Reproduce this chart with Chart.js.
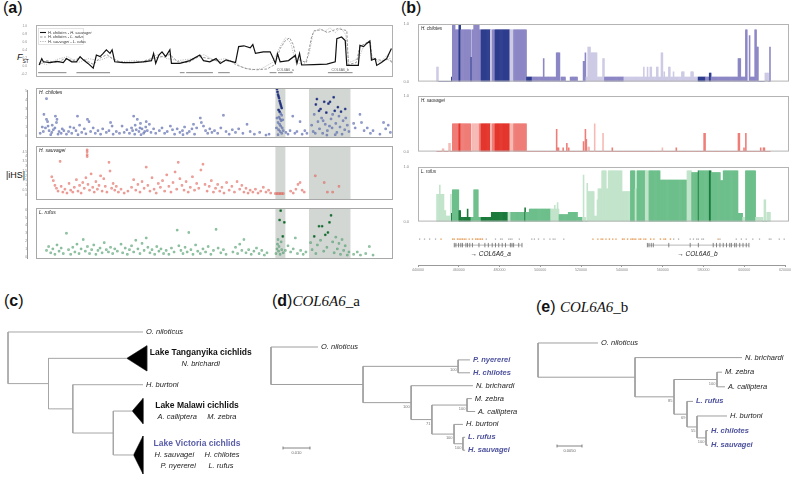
<!DOCTYPE html>
<html lang="en">
<head>
<meta charset="UTF-8">
<title>Selection around COL6A6 in Lake Victoria cichlids</title>
<script src="https://cdn.jsdelivr.net/npm/chart.js"></script>
<style>
  body { margin: 0; background: #fff; font-family: "Liberation Sans", Arial, sans-serif; }
  #page { position: relative; width: 800px; height: 478px; overflow: hidden; background: #fff; }
  #page canvas { position: absolute; }
  .lbl { position: absolute; white-space: nowrap; color: #111; line-height: 1; }
  .panel { font-size: 16px; }
  .gene { font-family: "Liberation Serif", "Times New Roman", serif; font-style: italic; font-size: 15px; }
  .bracket { position: absolute; border-left: 1px solid #9a9a9a; width: 0; }
</style>
</head>
<body>
<div id="page">
  <div class="lbl panel" style="left:3px;top:0px">(<b>a</b>)</div>
  <div class="lbl panel" style="left:401px;top:0px">(<b>b</b>)</div>
  <div class="lbl panel" style="left:4px;top:293px">(<b>c</b>)</div>
  <div class="lbl panel" style="left:272px;top:293px">(<b>d</b>)<span class="gene">COL6A6</span><span class="gene" style="font-style:normal">_a</span></div>
  <div class="lbl panel" style="left:536px;top:299px">(<b>e</b>) <span class="gene">COL6A6</span><span class="gene" style="font-style:normal">_b</span></div>
  <div class="lbl" style="left:17px;top:53px;font-size:9px"><i>F</i><sub style="font-size:5px">ST</sub></div>
  <div class="lbl" style="left:6px;top:171px;font-size:9px">|iHS|</div>
  <div class="bracket" style="left:27px;top:90px;height:169px"></div>

  <canvas id="fst" width="380" height="63" style="left:16px;top:20px"></canvas>
  <canvas id="ihsChil" width="380" height="60" style="left:16px;top:84px"></canvas>
  <canvas id="ihsSauv" width="380" height="64" style="left:16px;top:142px"></canvas>
  <canvas id="ihsRuf" width="380" height="61" style="left:16px;top:204px"></canvas>

  <canvas id="hapChil" width="394" height="65" style="left:398px;top:20px"></canvas>
  <canvas id="hapSauv" width="394" height="63" style="left:398px;top:92px"></canvas>
  <canvas id="hapRuf" width="394" height="62" style="left:398px;top:163px"></canvas>
  <canvas id="genes" width="394" height="44" style="left:398px;top:228px"></canvas>

  <canvas id="treeC" width="265" height="156" style="left:0px;top:322px"></canvas>
  <canvas id="treeD" width="265" height="145" style="left:265px;top:330px"></canvas>
  <canvas id="treeE" width="270" height="145" style="left:530px;top:330px"></canvas>
</div>
<script>
// ---------- (a) Fst along the scaffold, position in kb ----------
const fstNames = ['H. chilotes - H. sauvagei', 'H. chilotes - L. rufus', 'H. sauvagei - L. rufus'];
const fstChilSauv = [[0.6,0.04],[1.1,0.2],[1.4,0.12],[2.7,0.1],[4.0,0.13],[5.2,0.1],[5.8,0.2],[6.8,0.12],[7.7,0.12],[8.4,0.25],
  [9.0,0.17],[9.9,0.08],[10.9,-0.04],[11.5,0.29],[12.2,0.25],[12.8,0.33],[13.4,0.42],[14.1,0.33],[14.5,0.42],[15.0,0.12],
  [16.6,0.1],[18.5,0.1],[20.4,0.12],[22.0,0.15],[22.4,0.33],[22.8,0.08],[23.4,0.29],[24.0,0.37],[24.7,0.25],[25.5,0.42],
  [25.8,0.08],[27.4,0.08],[29.3,0.15],[31.2,0.29],[31.9,0.15],[33.1,0.12],[34.3,0.2],[35.1,0.08],[36.2,0.17],[37.5,0.12],
  [38.0,0.1],[38.6,0.5],[39.6,0.52],[40.8,0.47],[41.3,0.55],[41.8,0.33],[43.3,0.37],[44.6,0.37],[45.2,0.2],[45.6,0.08],
  [46.0,0.32],[46.5,0.12],[48.1,0.15],[49.4,0.28],[49.7,0.08],[50.2,0.33],[50.6,0.04],[52.9,0.05],[55.4,0.06],[57.0,0.12],
  [57.3,0.7],[58.2,0.74],[58.9,0.65],[59.2,0.03],[61.4,0.03],[61.7,0.53],[62.4,0.5],[63.0,0.58],[63.6,0.64],[63.9,0.16],
  [64.6,0.2],[64.9,0.03],[65.8,0.1],[66.8,0.2],[67.7,0.45]];
const fstChilRuf = [[0.6,0.05],[2.0,0.15],[4.0,0.1],[5.5,0.2],[7.0,0.15],[8.5,0.22],[10.0,0.12],[11.0,0.05],[12.0,0.2],[13.5,0.3],
  [15.0,0.15],[17.0,0.1],[20.0,0.12],[22.0,0.2],[24.0,0.25],[25.5,0.3],[27.0,0.12],[29.0,0.1],[31.0,0.25],[33.0,0.2],
  [35.0,0.12],[37.0,0.15],[38.0,0.05],[40.0,-0.05],[42.0,-0.08],[44.0,-0.06],[45.5,0.05],[46.5,0.45],[47.5,0.65],[48.3,0.72],
  [49.0,0.55],[49.6,0.2],[50.5,0.15],[51.5,0.1],[52.5,0.75],[53.0,0.9],[54.5,0.92],[55.5,0.85],[56.5,0.9],[57.5,0.95],
  [58.5,0.92],[59.2,0.9],[59.5,0.05],[61.0,0.1],[61.7,0.5],[63.0,0.6],[63.7,0.6],[64.0,0.2],[66.0,0.15],[67.0,0.18],[68.0,0.1]];
const fstSauvRuf = [[0.6,0.1],[2.0,0.05],[4.0,0.18],[6.0,0.25],[8.0,0.1],[10.0,0.2],[12.0,0.15],[14.0,0.25],[16.0,0.12],[19.0,0.15],
  [21.0,0.1],[23.0,0.3],[25.0,0.2],[27.0,0.15],[30.0,0.2],[32.0,0.3],[34.0,0.15],[36.0,0.2],[38.0,0.1],[39.0,0.0],
  [41.0,-0.08],[43.0,-0.05],[45.0,0.1],[46.5,0.5],[47.5,0.72],[48.5,0.6],[49.5,0.1],[51.0,0.05],[52.0,0.3],[52.8,0.85],
  [54.0,0.95],[55.0,0.88],[56.0,0.97],[57.0,0.85],[58.0,0.97],[59.0,0.8],[59.6,0.1],[61.5,0.2],[62.5,0.55],[63.5,0.65],
  [64.0,0.25],[65.5,0.1],[67.0,0.3],[68.0,0.05]];
const fstGenes = [[0.4,5.8,''],[7.7,14.1,''],[27.4,28.3,''],[28.6,33.7,''],[34.7,36.9,''],[44.5,45.8,''],[46.1,48.9,'COL6A6_a'],[55.6,60.3,'COL6A6_b']];
const fstYTicks = [-0.2, 0, 0.2, 0.4, 0.6, 0.8, 1.0];
const kbTicks = [0, 10, 20, 30, 40, 50, 60];

// ---------- (a) |iHS| per SNP: [kb, |iHS|] ----------
const sweepKb = [[45.6, 47.5], [52.0, 59.9]];
const ihsChilotes = [[0.8,0.3],[1.2,1.0],[1.4,0.5],[1.5,2.4],[1.8,0.9],[2.0,4.15],[2.0,1.85],[2.2,1.6],[2.3,1.1],[2.5,0.6],
  [2.8,0.15],[3.0,0.4],[3.1,1.2],[3.3,0.7],[3.6,0.9],[3.7,2.2],[3.9,1.5],[4.0,1.85],[4.2,0.2],[4.4,0.5],[4.8,0.3],[5.0,0.8],
  [5.3,0.6],[5.8,0.2],[6.2,0.5],[6.5,1.0],[6.8,0.3],[7.2,0.9],[7.6,0.6],[7.9,2.2],[8.0,0.15],[8.3,1.2],[8.7,0.4],[9.2,0.8],
  [9.5,0.25],[9.8,1.85],[10.1,1.6],[10.4,0.5],[10.9,0.9],[11.3,0.3],[11.8,0.6],[12.3,0.2],[12.7,0.8],[13.4,0.4],[13.9,0.6],
  [14.2,1.5],[14.5,1.1],[14.7,0.2],[15.3,0.5],[15.9,0.3],[16.4,1.1],[16.8,0.4],[17.3,0.7],[17.8,0.3],[18.2,0.9],[18.4,0.6],
  [18.6,2.2],[18.8,0.2],[18.9,1.2],[19.1,0.7],[19.3,1.85],[19.6,0.5],[19.8,0.9],[19.9,1.4],[20.0,0.15],[20.2,0.8],[20.5,0.3],
  [20.7,0.5],[20.9,1.0],[21.0,1.6],[21.2,0.6],[21.6,1.3],[21.9,0.4],[22.4,0.8],[22.8,0.3],[23.5,0.6],[24.0,0.9],[24.5,0.3],
  [25.0,0.5],[25.6,1.1],[26.0,0.7],[26.4,0.2],[26.9,0.8],[27.4,0.4],[27.9,0.6],[28.0,0.15],[28.3,1.0],[28.8,0.3],[29.2,0.5],
  [29.7,0.8],[30.0,1.3],[30.2,0.2],[30.6,0.9],[31.3,2.0],[31.5,1.5],[31.9,1.1],[32.3,0.6],[32.7,0.3],[33.1,0.8],[33.5,0.4],
  [34.0,0.6],[34.6,0.3],[35.2,0.9],[35.7,2.3],[36.2,0.5],[36.8,0.2],[37.4,0.7],[38.0,0.4],[38.6,0.8],[39.4,0.3],[40.2,1.3],
  [40.8,0.5],[41.6,0.2],[42.6,0.4],[43.8,0.1],[44.4,0.2],[45.8,0.9],[45.9,5.2],[45.9,2.0],[46.0,4.9],[46.1,4.6],[46.1,1.5],
  [46.1,0.15],[46.2,4.4],[46.2,2.9],[46.2,0.7],[46.3,4.2],[46.3,2.1],[46.4,3.9],[46.4,2.7],[46.4,1.3],[46.5,3.7],[46.5,1.9],
  [46.5,0.5],[46.6,3.5],[46.6,2.5],[46.6,1.1],[46.7,3.3],[46.7,1.7],[46.8,3.1],[46.8,2.3],[46.8,0.3],[46.9,0.9],[47.0,1.8],
  [47.1,0.6],[47.6,0.4],[48.0,0.2],[48.4,0.6],[48.9,2.2],[49.3,0.3],[49.7,0.5],[50.3,1.6],[50.7,0.2],[51.2,0.6],[51.6,0.3],
  [52.5,1.2],[52.8,0.5],[53.0,2.4],[53.2,0.3],[53.3,3.5],[53.5,4.1],[53.7,1.6],[53.9,2.8],[54.0,0.8],[54.2,3.0],[54.4,2.0],
  [54.6,0.3],[54.7,1.7],[54.9,3.8],[55.1,1.3],[55.3,2.6],[55.4,0.1],[55.5,0.6],[55.7,3.6],[55.9,1.1],[56.0,3.8],[56.2,1.9],
  [56.4,0.9],[56.5,2.4],[56.7,4.3],[56.9,2.8],[57.0,0.15],[57.1,1.4],[57.3,0.4],[57.5,3.2],[57.7,2.2],[57.9,1.0],[58.1,2.7],
  [58.3,0.2],[58.5,1.7],[58.8,0.7],[58.9,3.0],[59.0,2.0],[59.3,1.2],[59.6,0.5],[60.5,1.4],[60.8,0.9],[61.7,2.4],[62.0,1.5],
  [62.5,0.6],[63.1,0.9],[63.7,0.3],[64.2,0.6],[65.5,0.2],[66.2,1.5],[66.6,0.8],[67.1,1.2],[67.5,0.4]];
const ihsSauvagei = [[3.0,1.9],[3.3,1.5],[3.6,1.0],[3.9,0.7],[4.2,0.4],[4.6,3.5],[4.8,0.9],[5.1,0.3],[5.5,0.6],[5.9,0.2],
  [6.3,1.2],[6.6,0.5],[7.0,0.3],[7.3,0.8],[7.7,1.6],[8.0,0.4],[8.3,1.0],[8.6,0.2],[8.9,1.3],[9.2,0.7],[9.5,1.8],[9.75,4.7],
  [9.75,4.5],[9.75,4.2],[9.75,4.0],[9.9,1.1],[10.2,0.5],[10.5,2.2],[10.8,0.8],[11.1,0.3],[11.4,1.4],[11.7,0.6],[12.0,1.0],
  [12.3,2.0],[12.6,0.4],[12.9,1.7],[13.2,0.9],[13.5,0.3],[13.9,3.4],[14.1,2.5],[14.4,0.7],[14.7,1.2],[15.0,0.5],[15.3,0.9],
  [15.7,0.3],[16.2,0.6],[16.8,0.2],[17.5,0.4],[18.2,0.8],[18.6,1.6],[19.0,0.5],[19.4,1.1],[19.8,0.3],[20.2,1.4],[20.6,0.7],
  [21.0,2.9],[21.3,1.0],[21.7,0.4],[22.1,1.8],[22.5,0.6],[22.9,0.2],[23.3,1.2],[23.7,0.8],[24.1,1.5],[24.5,0.4],[24.9,2.1],
  [25.3,0.9],[25.7,0.3],[26.1,1.3],[26.5,2.4],[26.8,0.6],[27.1,3.4],[27.4,1.7],[27.8,1.0],[28.2,0.5],[28.6,1.4],[29.0,0.3],
  [29.4,0.8],[29.8,1.9],[30.2,0.5],[30.6,1.2],[31.0,0.7],[31.4,2.6],[31.8,3.2],[32.2,1.1],[32.6,0.4],[33.0,0.9],[33.4,1.5],
  [33.8,0.3],[34.2,0.7],[34.6,1.1],[35.0,0.4],[35.4,0.8],[35.8,0.2],[36.3,1.3],[36.8,0.5],[37.3,0.9],[37.8,0.3],[38.3,1.4],
  [38.8,0.6],[39.2,1.0],[39.6,0.3],[40.0,0.7],[40.4,0.2],[40.8,0.5],[41.3,0.3],[41.8,0.6],[42.3,0.2],[42.8,0.4],[43.3,0.8],
  [43.8,0.3],[44.3,0.5],[44.7,0.2],[45.6,0.15],[45.9,0.15],[46.2,0.15],[46.5,0.15],[46.8,0.15],[47.1,0.15],[48.5,0.4],
  [49.0,0.2],[49.5,0.6],[49.9,1.1],[50.3,1.3],[50.7,0.5],[51.1,0.3],[53.2,2.0],[54.9,1.3],[55.5,0.3],[56.5,0.3],[57.7,0.9]];
const ihsRufus = [[2.0,0.8],[2.4,1.3],[2.8,0.5],[3.2,1.0],[3.6,0.3],[4.0,1.5],[4.4,0.7],[4.8,1.1],[5.2,0.4],[5.8,3.0],
  [6.2,0.9],[6.6,0.3],[7.0,1.2],[7.4,0.6],[7.8,1.6],[8.2,0.4],[8.6,1.0],[9.0,2.2],[9.4,0.7],[9.8,1.3],[10.2,0.4],[10.6,0.9],
  [11.0,1.5],[11.4,0.3],[11.8,0.8],[12.2,1.1],[12.6,0.5],[13.0,1.8],[13.4,0.9],[13.8,0.6],[14.2,1.2],[14.6,0.4],[15.0,1.0],
  [15.5,0.7],[16.2,1.6],[16.5,0.5],[17.0,1.1],[17.4,0.3],[17.8,0.9],[18.2,1.4],[18.6,0.6],[19.0,2.1],[19.4,1.0],[19.8,0.4],
  [20.2,1.7],[20.6,0.8],[21.0,2.4],[21.3,1.2],[21.7,0.5],[22.1,0.9],[22.6,0.3],[23.0,1.3],[23.4,0.7],[23.8,1.0],[24.3,0.4],
  [24.8,0.8],[25.3,0.3],[25.8,1.1],[26.3,0.6],[26.9,3.4],[27.2,1.4],[27.6,0.8],[28.0,0.4],[28.4,1.2],[28.8,0.6],[29.1,3.1],
  [29.5,0.9],[29.9,0.3],[30.4,1.5],[30.8,0.7],[31.3,0.4],[31.8,1.0],[32.3,0.6],[32.8,1.3],[33.3,0.3],[33.8,0.8],[34.3,3.5],
  [34.7,1.1],[35.2,0.5],[35.7,0.9],[36.2,0.3],[37.5,0.6],[38.0,1.2],[38.4,0.4],[38.8,1.6],[39.2,0.8],[39.6,2.2],[40.0,0.5],
  [40.5,0.9],[41.0,0.3],[41.5,0.7],[42.0,1.1],[42.5,0.4],[43.0,0.8],[43.5,0.2],[44.0,0.5],[45.7,0.4],[45.9,1.0],[46.0,1.6],
  [46.1,2.2],[46.2,0.7],[46.3,1.3],[46.4,4.7],[46.5,0.3],[46.6,5.9],[46.7,1.9],[46.8,0.9],[47.0,2.6],[47.1,0.5],[47.3,4.4],
  [47.5,0.8],[48.0,1.4],[48.5,0.6],[49.0,1.0],[49.4,2.4],[49.8,0.4],[50.4,0.8],[50.9,0.3],[51.4,0.6],[52.3,1.8],[52.6,0.9],
  [53.0,2.6],[53.3,0.4],[53.6,1.5],[53.9,3.9],[54.2,2.1],[54.5,3.9],[54.8,0.7],[55.1,2.8],[55.4,1.2],[55.6,3.1],[55.9,4.4],
  [56.2,5.3],[56.5,1.9],[56.8,0.5],[57.1,2.5],[57.4,1.0],[57.7,1.7],[58.0,0.3],[58.3,2.2],[58.6,0.8],[58.9,1.4],[59.3,0.2],
  [59.6,0.6],[60.5,0.3],[61.2,0.6],[61.8,0.2],[62.8,0.4],[63.5,1.3],[64.2,0.2]];

// ---------- (b) haplotype frequency runs: [start kb, end kb, frequency, shade 0 dark / 1 mid / 2 light] ----------
const hapChilotes = [[440.0,441.1,0.25,2],[448.1,448.6,0.08,0],[448.6,450.2,1.0,1],[450.2,452.1,0.9,1],[452.1,452.9,1.0,0],
  [452.9,458.3,0.9,1],[458.3,458.9,0.42,0],[458.9,460.2,0.9,1],[460.2,463.1,1.0,1],[463.1,463.8,0.9,1],[463.8,469.1,0.9,0],
  [469.1,469.9,0.9,2],[469.9,471.6,0.9,1],[471.6,479.3,0.9,0],[479.3,481.6,0.9,2],[481.6,488.5,0.9,1],[488.5,491.3,0.08,0],
  [491.3,504.7,0.08,1],[497.4,498.0,0.4,1],[504.7,506.3,0.5,1],[507.2,509.6,0.08,1],[512.0,516.0,0.08,1],[519.0,519.8,0.35,1],
  [519.8,520.6,0.5,1],[520.6,521.7,0.08,2],[521.7,522.8,0.6,2],[522.8,526.6,0.5,2],[526.6,529.5,0.08,2],[529.5,530.5,0.4,2],
  [530.6,540.8,0.08,1],[540.8,580.8,0.08,2],[551.5,552.2,0.25,2],[553.5,554.2,0.25,2],[555.0,556.0,0.25,2],[558.5,559.3,0.25,2],
  [561.0,561.8,0.5,2],[562.5,563.2,0.17,2],[565.0,565.8,0.25,2],[567.5,568.2,0.17,2],[572.0,573.5,0.17,2],[577.0,578.5,0.17,2],
  [580.8,584.8,0.08,0],[584.8,602.6,0.08,1],[587.2,588.0,0.15,0],[602.6,603.9,0.4,1],[603.9,606.7,0.08,1],[606.7,607.5,0.9,1],
  [608.3,608.8,0.8,1],[608.8,613.3,0.08,1],[611.5,612.3,0.9,1],[612.7,613.3,0.6,1],[616.9,619.1,0.15,2],[619.5,620.0,0.6,1]];
const hapSauvagei = [[443.2,444.0,0.05,2],[446.5,447.3,0.15,2],[448.6,452.1,0.5,1],[452.1,452.9,0.5,0],[452.9,458.6,0.5,1],
  [458.9,463.1,0.5,2],[463.1,463.8,0.5,1],[463.8,469.1,0.5,0],[469.1,469.9,0.5,2],[469.9,471.6,0.5,1],[471.6,479.3,0.5,0],
  [479.3,481.6,0.5,2],[481.6,488.5,0.5,1],[504.5,505.0,0.4,1],[505.0,506.0,0.07,1],[508.2,508.7,0.07,1],[509.8,510.6,0.15,1],
  [510.8,511.3,0.07,1],[518.8,519.5,0.18,1],[519.8,520.4,0.4,1],[520.6,521.2,0.22,1],[521.5,522.5,0.08,2],[524.8,525.6,0.5,2],
  [529.3,530.0,0.33,2],[534.3,534.9,0.07,1],[561.3,562.0,0.07,2],[569.0,569.7,0.07,1],[584.2,584.8,0.33,1],[602.5,603.7,0.33,1],
  [605.6,606.2,0.07,1],[606.5,607.0,0.33,1],[614.5,615.0,0.07,1],[616.2,616.8,0.07,1]];
const hapRufus = [[440.0,442.4,0.5,2],[441.5,442.0,0.67,2],[442.4,444.0,0.5,2],[444.0,444.9,0.2,2],[444.9,447.3,0.1,2],
  [447.3,448.1,0.5,2],[448.1,448.6,0.15,0],[448.6,452.1,0.58,1],[452.1,452.9,0.2,0],[452.9,458.6,0.08,0],[456.5,457.0,0.23,0],
  [458.6,460.2,0.08,1],[460.2,462.3,0.58,1],[462.3,463.8,0.08,1],[463.8,469.7,0.08,0],[469.7,478.6,0.17,0],[478.6,480.2,0.17,2],
  [480.2,487.4,0.17,1],[487.4,488.2,0.25,0],[488.2,489.8,0.17,1],[489.8,501.3,0.23,1],[501.3,506.2,0.23,2],[503.5,504.2,0.3,2],
  [505.0,505.6,0.35,2],[506.2,511.0,0.13,1],[511.0,515.8,0.17,1],[515.8,518.3,0.08,1],[519.0,519.7,0.85,2],[519.7,520.5,0.08,2],
  [521.0,521.6,0.7,2],[521.6,524.8,0.55,2],[524.8,526.3,0.1,2],[526.3,527.0,0.4,2],[527.0,529.0,0.6,2],[529.0,531.5,0.93,2],
  [531.5,532.3,0.6,2],[532.3,540.0,0.93,2],[540.0,544.7,0.55,2],[544.7,547.0,0.93,1],[547.0,548.0,0.6,2],[548.0,552.5,0.93,1],
  [552.5,554.5,0.93,2],[554.5,560.6,0.93,1],[560.6,575.1,0.76,1],[575.1,577.5,0.93,2],[577.5,580.8,0.9,1],[580.8,581.6,0.93,0],
  [581.6,587.2,0.93,1],[587.2,588.0,0.93,0],[588.0,592.9,0.9,1],[592.9,594.5,0.75,1],[594.5,602.6,0.93,1],[602.6,605.0,0.15,1],
  [605.0,606.5,0.08,2],[606.5,611.8,0.93,1],[611.8,616.0,0.08,2],[616.4,617.5,0.4,2],[618.0,620.0,0.17,2]];
const bTicks = [440, 460, 480, 500, 520, 540, 560, 580, 600, 620];

// gene track under (b), kb
const snpOrange = [451.3,457.0,457.8,459.4,460.2,461.0,461.8,462.7,463.5,465.1,466.7,468.3,469.1,469.9,470.7,471.6,525.8,528.2,
  529.8,530.6,532.2,533.9,535.5,537.1,540.3,541.1,542.8,544.4,545.2,546.0,546.8,548.4,549.2,550.8,551.7,554.1,555.7,558.9,560.6,
  561.4,563.8,587.2];
const snpGrey = [440.8,443.2,445.7,448.6,473.5,478.0,480.5,481.3,484.5,485.3,486.1,489.7,495.8,497.1,499.1,501.8,504.7,506.3,
  507.2,511.5,565.4,567.8,573.5,575.1,576.7,577.5,579.2,580.0,588.1,596.1,598.6,601.0,604.2,607.5,612.3,613.1,617.2,619.6];
const exonsA = [457.8,458.6,459.9,461.0,461.8,463.5,464.3,465.4,466.7,469.9,472.8,474.5,476.4,478.0,479.6,481.3,482.9,485.3,
  486.1,486.9,489.4,491.0];
const exonsB = [552.5,553.3,554.4,555.4,563.0,573.5,577.5,584.8,586.4,588.1,589.7,591.3,592.9,593.7,595.3,596.1,597.8,599.4,
  601.0,602.3];
const geneSpans = [['COL6A6_a', 457.8, 491.0, 465.7], ['COL6A6_b', 552.5, 602.3, 567.1]];

// ---------- (c)-(e) trees ----------
const lakeVictoria = ['P. nyererei', 'H. chilotes', 'L. rufus', 'H. sauvagei'];
const cladeTree = { children: [
  { name: 'O. niloticus', len: 1.0 },
  { len: 0.3, children: [
    { clade: 'Lake Tanganyika cichlids', species: ['N. brichardi'], len: 0.58, tri: 0.148, rows: 2 },
    { len: 0.18, children: [
      { name: 'H. burtoni', len: 0.52 },
      { len: 0.3, children: [
        { clade: 'Lake Malawi cichlids', species: ['A. calliptera     M. zebra'], len: 0.14, tri: 0.08, rows: 2 },
        { clade: 'Lake Victoria cichlids', species: ['H. sauvagei     H. chilotes', 'P. nyererei      L. rufus'], len: 0.15, tri: 0.07, rows: 3 }
      ]}
    ]}
  ]}
]};
const treeA = { children: [
  { name: 'O. niloticus', len: 0.0174 },
  { len: 0.0341, children: [
    { len: 0.0352, bs: 100, children: [{ name: 'P. nyererei', len: 0.0044 }, { name: 'H. chilotes', len: 0.0044 }] },
    { len: 0.0178, bs: 100, children: [
      { name: 'N. brichardi', len: 0.0229 },
      { len: 0.0077, bs: 71, children: [
        { len: 0.013, bs: 100, children: [{ name: 'M. zebra', len: 0.0018 }, { name: 'A. calliptera', len: 0.003 }] },
        { len: 0.0082, bs: 100, children: [
          { name: 'H. burtoni', len: 0.0033 },
          { len: 0.0033, bs: 100, children: [{ name: 'L. rufus', len: 0.0008 }, { name: 'H. sauvagei', len: 0.0008 }] }
        ]}
      ]}
    ]}
  ]}
]};
const treeB = { children: [
  { name: 'O. niloticus', len: 0.012 },
  { len: 0.0194, children: [
    { name: 'N. brichardi', len: 0.0214 },
    { len: 0.0078, bs: 85, children: [
      { len: 0.0086, bs: 100, children: [{ name: 'M. zebra', len: 0.001 }, { name: 'A. calliptera', len: 0.0016 }] },
      { len: 0.0026, bs: 69, children: [
        { name: 'L. rufus', len: 0.0012 },
        { len: 0.002, bs: 55, children: [
          { name: 'H. burtoni', len: 0.006 },
          { len: 0.0018, bs: 100, children: [{ name: 'H. chilotes', len: 0.0004 }, { name: 'H. sauvagei', len: 0.0004 }] }
        ]}
      ]}
    ]}
  ]}
]};

// ---------- shared setup ----------
const SANS = '"Liberation Sans", Arial, sans-serif';
Chart.defaults.font.family = SANS;
Chart.defaults.animation = false;
Chart.defaults.plugins.legend.display = false;
Chart.defaults.plugins.tooltip.enabled = false;

// frame around plot areas
Chart.register({
  id: 'box',
  afterDraw(chart, args, opts) {
    if (!opts || !opts.color) return;
    const a = chart.chartArea, ctx = chart.ctx;
    ctx.save();
    ctx.strokeStyle = opts.color;
    ctx.lineWidth = 1;
    ctx.strokeRect(a.left + 0.5, a.top + 0.5, a.right - a.left - 1, a.bottom - a.top - 1);
    ctx.restore();
  }
});
// grey sweep windows behind the iHS points
Chart.register({
  id: 'shade',
  beforeDatasetsDraw(chart, args, opts) {
    if (!opts || !opts.ranges) return;
    const a = chart.chartArea, x = chart.scales.x, ctx = chart.ctx;
    ctx.save();
    ctx.fillStyle = opts.color;
    opts.ranges.forEach(r => {
      const x0 = x.getPixelForValue(r[0]), x1 = x.getPixelForValue(r[1]);
      ctx.fillRect(x0, a.top, x1 - x0, a.bottom - a.top);
    });
    ctx.restore();
  }
});
// species name in the top-left corner
Chart.register({
  id: 'tag',
  afterDraw(chart, args, opts) {
    if (!opts || !opts.text) return;
    const a = chart.chartArea, ctx = chart.ctx;
    ctx.save();
    ctx.font = 'italic ' + (opts.size || 5) + 'px ' + SANS;
    ctx.fillStyle = '#222';
    ctx.textBaseline = 'top';
    ctx.fillText(opts.text, a.left + 3, a.top + 2);
    ctx.restore();
  }
});

function tinyTicks(list, fmt, size) {
  return {
    afterBuildTicks: s => { s.ticks = list.map(v => ({ value: v })); },
    ticks: { font: { size: size || 3.2 }, color: '#888', padding: 1, maxRotation: 0, autoSkip: false, callback: fmt }
  };
}
const pts = arr => arr.map(p => ({ x: p[0], y: p[1] }));

// ---------- (a) Fst ----------
new Chart(document.getElementById('fst'), {
  type: 'line',
  data: { datasets: [
    { data: pts(fstChilSauv), borderColor: '#111', borderWidth: 1.2, pointRadius: 0 },
    { data: pts(fstChilRuf), borderColor: '#808080', borderWidth: 0.8, borderDash: [2.5, 1.5], pointRadius: 0 },
    { data: pts(fstSauvRuf), borderColor: '#b8b8b8', borderWidth: 0.9, borderDash: [1.2, 1.2], pointRadius: 0 }
  ].concat(fstGenes.map(g => ({ data: [{ x: g[0], y: -0.15 }, { x: g[1], y: -0.15 }], borderColor: '#9a9a9a', borderWidth: 1.2, pointRadius: 0 }))) },
  options: {
    responsive: false, devicePixelRatio: 1,
    layout: { padding: { top: 5, right: 3, left: 0, bottom: 0 }, autoPadding: false },
    scales: {
      x: Object.assign({ type: 'linear', min: 0, max: 68, grid: { display: false }, border: { display: false },
        afterFit: s => { s.height = 6; } }, tinyTicks(kbTicks, v => v === 0 ? '' : String(v * 1000))),
      y: Object.assign({ min: -0.26, max: 1.04, grid: { display: false }, border: { display: false },
        afterFit: s => { s.width = 20; } }, tinyTicks(fstYTicks, v => v.toFixed(1)))
    },
    plugins: { box: { color: '#b0b0b0' } }
  },
  plugins: [{
    id: 'fstNotes',
    afterDraw(chart) {
      const ctx = chart.ctx, a = chart.chartArea, xs = chart.scales.x, ys = chart.scales.y;
      const styles = [[[], '#111', 1.1], [[2.5, 1.5], '#808080', 0.8], [[1.2, 1.2], '#b0b0b0', 0.9]];
      ctx.save();
      ctx.strokeStyle = '#d0d0d0'; ctx.lineWidth = 0.6;
      ctx.strokeRect(a.left + 2.5, a.top + 3.5, 45, 16);
      ctx.font = 'italic 4px ' + SANS; ctx.textBaseline = 'middle'; ctx.fillStyle = '#333';
      fstNames.forEach((n, i) => {
        const y = a.top + 7.5 + i * 4.5;
        ctx.setLineDash(styles[i][0]); ctx.strokeStyle = styles[i][1]; ctx.lineWidth = styles[i][2];
        ctx.beginPath(); ctx.moveTo(a.left + 4, y); ctx.lineTo(a.left + 10, y); ctx.stroke();
        ctx.fillText(n, a.left + 12, y);
      });
      ctx.setLineDash([]);
      ctx.font = '3.5px ' + SANS; ctx.fillStyle = '#666'; ctx.textAlign = 'center';
      fstGenes.forEach(g => { if (g[2]) ctx.fillText(g[2], xs.getPixelForValue((g[0] + g[1]) / 2), ys.getPixelForValue(-0.15) - 3); });
      ctx.restore();
    }
  }]
});

// ---------- (a) |iHS| ----------
function ihsPanel(id, data, fill, edge, dark, yMin, yMax, yTicks, name) {
  const inSweep = x => sweepKb.some(r => x >= r[0] && x <= r[1]);
  new Chart(document.getElementById(id), {
    type: 'scatter',
    data: { datasets: [{
      data: pts(data), pointStyle: 'rect', pointRadius: 1.2, borderWidth: 0.6,
      backgroundColor: c => (c.raw && c.raw.y > 2.5 && inSweep(c.raw.x)) ? dark : fill,
      borderColor: c => (c.raw && c.raw.y > 2.5 && inSweep(c.raw.x)) ? dark : edge
    }] },
    options: {
      responsive: false, devicePixelRatio: 1,
      layout: { padding: { top: 4, right: 3, left: 0, bottom: 0 }, autoPadding: false },
      scales: {
        x: Object.assign({ type: 'linear', min: 0, max: 68, grid: { display: false }, border: { display: false },
          afterFit: s => { s.height = 6; } }, tinyTicks(kbTicks, v => v === 0 ? '' : String(v * 1000))),
        y: Object.assign({ min: yMin, max: yMax, grid: { display: false }, border: { display: false },
          afterFit: s => { s.width = 20; } }, tinyTicks(yTicks, v => String(v)))
      },
      plugins: { box: { color: '#a8a8a8' }, shade: { ranges: sweepKb, color: '#d2d7d4' }, tag: { text: name, size: 5 } }
    }
  });
}
ihsPanel('ihsChil', ihsChilotes, 'rgba(120,135,195,0.55)', 'rgba(75,90,165,0.85)', '#1f2f80', -0.22, 5.33, [0, 1, 2, 3, 4, 5], 'H. chilotes');
ihsPanel('ihsSauv', ihsSauvagei, 'rgba(238,140,130,0.5)', 'rgba(222,95,85,0.85)', '#c8231b', -0.52, 5.1, [0, 0.5, 1, 1.5, 2, 2.5, 3, 3.5, 4, 4.5], 'H. sauvagei');
ihsPanel('ihsRuf', ihsRufus, 'rgba(120,185,140,0.5)', 'rgba(70,150,100,0.85)', '#0f6a2c', -0.3, 6.24, [0, 1, 2, 3, 4, 5, 6], 'L. rufus');

// ---------- (b) haplotype frequency bars ----------
const BIN = 0.5;
function binRuns(runs) {
  const n = Math.round((620 - 440) / BIN);
  const h = new Array(n).fill(0), s = new Array(n).fill(0);
  runs.forEach(r => {
    const i0 = Math.round((r[0] - 440) / BIN);
    const i1 = Math.max(i0 + 1, Math.round((r[1] - 440) / BIN));
    for (let i = i0; i < i1 && i < n; i++) { h[i] = r[2]; s[i] = r[3]; }
  });
  return { data: h.map((v, i) => ({ x: 440 + (i + 0.5) * BIN, y: v })), shade: s };
}
function hapPanel(id, runs, colors, name) {
  const b = binRuns(runs);
  new Chart(document.getElementById(id), {
    type: 'bar',
    data: { datasets: [{ data: b.data, backgroundColor: b.shade.map(k => colors[k]), borderWidth: 0,
      barPercentage: 1, categoryPercentage: 1 }] },
    options: {
      responsive: false, devicePixelRatio: 1,
      layout: { padding: { top: 4, right: 3, left: 0, bottom: 0 }, autoPadding: false },
      scales: {
        x: { type: 'linear', min: 440, max: 620, display: false },
        y: Object.assign({ min: 0, max: 1, grid: { display: false }, border: { display: false },
          afterFit: s => { s.width = 20; } }, tinyTicks([0, 1], v => v.toFixed(1), 4))
      },
      plugins: { box: { color: '#b4b4b4' }, tag: { text: name, size: 4.5 } }
    }
  });
}
hapPanel('hapChil', hapChilotes, ['#2e3d8e', '#8c87c5', '#cdcae5'], 'H. chilotes');
hapPanel('hapSauv', hapSauvagei, ['#e4362d', '#ef7d77', '#f6bab5'], 'H. sauvagei');
hapPanel('hapRuf', hapRufus, ['#1a7a3b', '#6dbf8b', '#c2e4cb'], 'L. rufus');

// gene track + genomic axis
const TRACK_SNP = 2.8, TRACK_GENE = 2.15, TRACK_NAME = 1.2;
new Chart(document.getElementById('genes'), {
  type: 'line',
  data: { datasets: [
    { data: snpOrange.map(x => ({ x, y: TRACK_SNP })), showLine: false, pointStyle: 'rect', pointRadius: 1, backgroundColor: '#e59a55', borderWidth: 0 },
    { data: snpGrey.map(x => ({ x, y: TRACK_SNP })), showLine: false, pointStyle: 'rect', pointRadius: 0.9, backgroundColor: '#a8a8a8', borderWidth: 0 },
    { data: exonsA.concat(exonsB).map(x => ({ x, y: TRACK_GENE })), showLine: false, pointStyle: 'line', rotation: 90, pointRadius: 2.2, borderColor: '#666', borderWidth: 0.8 }
  ].concat(geneSpans.map(g => ({ data: [{ x: g[1], y: TRACK_GENE }, { x: g[2], y: TRACK_GENE }], borderColor: '#888', borderWidth: 0.6, pointRadius: 0 }))) },
  options: {
    responsive: false, devicePixelRatio: 1,
    layout: { padding: { top: 0, right: 3, left: 20, bottom: 0 }, autoPadding: false },
    scales: {
      x: Object.assign({ type: 'linear', min: 440, max: 620,
        grid: { display: true, drawOnChartArea: false, drawTicks: true, tickLength: 2, color: '#999' },
        border: { display: true, color: '#999' }, afterFit: s => { s.height = 7; } }, tinyTicks(bTicks, v => String(v * 1000), 3.6)),
      y: { min: 0, max: 4, display: false }
    }
  },
  plugins: [{
    id: 'geneNames',
    afterDraw(chart) {
      const ctx = chart.ctx, xs = chart.scales.x, ys = chart.scales.y;
      ctx.save();
      ctx.font = 'italic 6.5px ' + SANS; ctx.fillStyle = '#222'; ctx.textBaseline = 'middle';
      geneSpans.forEach(g => ctx.fillText('\u2192 ' + g[0], xs.getPixelForValue(g[3]), ys.getPixelForValue(TRACK_NAME)));
      ctx.restore();
    }
  }]
});

// ---------- trees ----------
function layoutTree(root) {
  let cursor = 0;
  const segs = [], leaves = [], inner = [];
  (function walk(n, d) {
    n.depth = d + (n.len || 0);
    if (n.children) {
      n.children.forEach(c => walk(c, n.depth));
      const first = n.children[0], last = n.children[n.children.length - 1];
      n.y = (first.y + last.y) / 2;
      segs.push([[n.depth, first.y], [n.depth, last.y]]);
      n.children.forEach(c => segs.push([[n.depth, c.y], [c.depth, c.y]]));
      inner.push(n);
    } else {
      const r = n.rows || 1;
      n.y = cursor + (r - 1) / 2;
      cursor += r;
      leaves.push(n);
    }
  })(root, 0);
  return { segs, leaves, inner };
}

function drawTree(id, tree, xr, yr, lineColor, bar) {
  const t = layoutTree(tree);
  const ds = t.segs.map(s => ({ data: pts(s), borderColor: lineColor, borderWidth: 1, pointRadius: 0 }));
  t.leaves.filter(n => n.tri).forEach(n => {
    const h = n.rows * 0.36;
    ds.push({ data: [{ x: n.depth, y: n.y }, { x: n.depth + n.tri, y: n.y - h }, { x: n.depth + n.tri, y: n.y + h }, { x: n.depth, y: n.y }],
      borderColor: '#000', borderWidth: 0.5, backgroundColor: '#000', fill: 'shape', pointRadius: 0 });
  });
  new Chart(document.getElementById(id), {
    type: 'line',
    data: { datasets: ds },
    options: {
      responsive: false, devicePixelRatio: 1,
      layout: { padding: 0, autoPadding: false },
      scales: { x: { type: 'linear', min: xr[0], max: xr[1], display: false },
                y: { type: 'linear', min: yr[0], max: yr[1], reverse: true, display: false } }
    },
    plugins: [{
      id: 'treeText',
      afterDatasetsDraw(chart) {
        const ctx = chart.ctx, xs = chart.scales.x, ys = chart.scales.y, a = chart.chartArea;
        ctx.save();
        ctx.textBaseline = 'middle';
        t.leaves.forEach(n => {
          const y = ys.getPixelForValue(n.y);
          if (n.clade) {
            const cx = xs.getPixelForValue(n.depth + n.tri) + 54;
            const lines = [n.clade].concat(n.species);
            lines.forEach((txt, i) => {
              const ly = y + (i - (lines.length - 1) / 2) * 11;
              ctx.textAlign = 'center';
              if (i === 0) {
                ctx.font = 'bold 8.5px ' + SANS;
                ctx.fillStyle = n.clade.indexOf('Victoria') >= 0 ? '#5a5ea8' : '#111';
              } else {
                ctx.font = 'italic 7.5px ' + SANS; ctx.fillStyle = '#222';
              }
              ctx.fillText(txt, cx, ly);
            });
          } else {
            const blue = id !== 'treeC' && lakeVictoria.includes(n.name);
            ctx.font = (blue ? 'italic bold ' : 'italic ') + '7.5px ' + SANS;
            ctx.fillStyle = blue ? '#4d519c' : '#222';
            ctx.textAlign = 'left';
            ctx.fillText(n.name, xs.getPixelForValue(n.depth) + 3, y);
          }
        });
        ctx.font = '4px ' + SANS; ctx.fillStyle = '#777'; ctx.textAlign = 'right';
        t.inner.forEach(n => { if (n.bs) ctx.fillText(String(n.bs), xs.getPixelForValue(n.depth) - 1.5, ys.getPixelForValue(n.y) + 4); });
        if (bar) {
          const x0 = a.left + bar.dx, y0 = a.top + bar.dy;
          const len = xs.getPixelForValue(bar.value) - xs.getPixelForValue(0);
          ctx.strokeStyle = '#666'; ctx.lineWidth = 0.8;
          ctx.beginPath();
          ctx.moveTo(x0, y0); ctx.lineTo(x0 + len, y0);
          ctx.moveTo(x0, y0 - 1.5); ctx.lineTo(x0, y0 + 1.5);
          ctx.moveTo(x0 + len, y0 - 1.5); ctx.lineTo(x0 + len, y0 + 1.5);
          ctx.stroke();
          ctx.textAlign = 'center'; ctx.fillStyle = '#666';
          ctx.fillText(bar.label, x0 + len / 2, y0 + 5);
        }
        ctx.restore();
      }
    }]
  });
}
drawTree('treeC', cladeTree, [-0.0593, 1.9037], [-0.569, 8.31], '#a6a6a6', null);
drawTree('treeD', treeA, [-0.00222, 0.09593], [-1.318, 9.922], '#9e9e9e', { dx: 18, dy: 118, value: 0.010, label: '0.010' });
drawTree('treeE', treeB, [-0.0016, 0.0524], [-0.890, 9.041], '#9e9e9e', { dx: 27, dy: 116, value: 0.005, label: '0.0050' });
</script>
</body>
</html>
